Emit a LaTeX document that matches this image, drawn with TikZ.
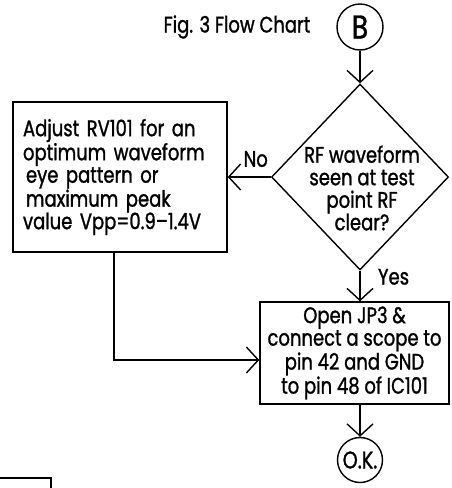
\documentclass[tikz,border=0pt]{standalone}
\usepackage{fontspec}
\setmainfont{Poppins}[FakeStretch=0.8,FakeBold=1.2]
\usepackage{tikz}
\usetikzlibrary{shapes.geometric,arrows.meta}

\begin{document}
\begin{tikzpicture}[x=1pt,y=-1pt,line width=1.4pt,
    >={Straight Barb[length=12pt,width=26pt]},
    font=\fontsize{22.5}{22.5}\selectfont]
    \useasboundingbox (0,0) rectangle (451,488);

    % Заголовок
    \node (title) at (237,27) {Fig. 3 Flow Chart};

    % Коло B
    \node[draw, circle, minimum size=46pt, inner sep=0pt,
          font=\fontsize{33}{33}\selectfont] (B) at (360,27) {B};

    % Ромб (умова)
    \node[draw, diamond, minimum width=177pt, minimum height=186pt,
          inner sep=0pt] (check) at (360,177) {};
    \node[align=center, inner sep=0pt] (checktext) at (362,188)
        {RF waveform\\seen at test\\point RF\\clear?};

    % Лівий блок
    \node[draw, minimum width=214pt, minimum height=150pt,
          text width=194pt, align=left, inner sep=0pt] (adjust) at (120,177)
        {Adjust RV101 for an\\optimum waveform\\\hspace{3pt}eye pattern or\\
         \hspace{3pt}maximum peak\\value Vpp=0.9--1.4V};

    % Нижній блок
    \node[draw, minimum width=189pt, minimum height=102pt,
          align=center, inner sep=0pt] (scope) at (354.5,353)
        {Open JP3 \&\\connect a scope to\\pin 42 and GND\\to pin 48 of IC101};

    % Коло O.K.
    \node[draw, circle, minimum size=45pt, inner sep=0pt,
          font=\fontsize{24}{24}\selectfont] (ok) at (360,460) {O.K.};

    % Стрілки
    \draw[->] (B) -- (check);
    \draw[->] (check.west) -- node[above=6pt, pos=0.35] (no) {No} (adjust.east);
    \draw[->] (check.south) -- node[right=14pt, pos=0.2] (yes) {Yes}
        (check.south |- scope.north);
    \draw[->] ([xshift=-6pt]adjust.south) |- ([yshift=-7pt]scope.west);
    \draw[->] (scope.south -| ok.north) -- (ok.north);

    % Край сусіднього блока
    \draw (0,478) -- (51,478) -- (51,488);
\end{tikzpicture}
\end{document}
